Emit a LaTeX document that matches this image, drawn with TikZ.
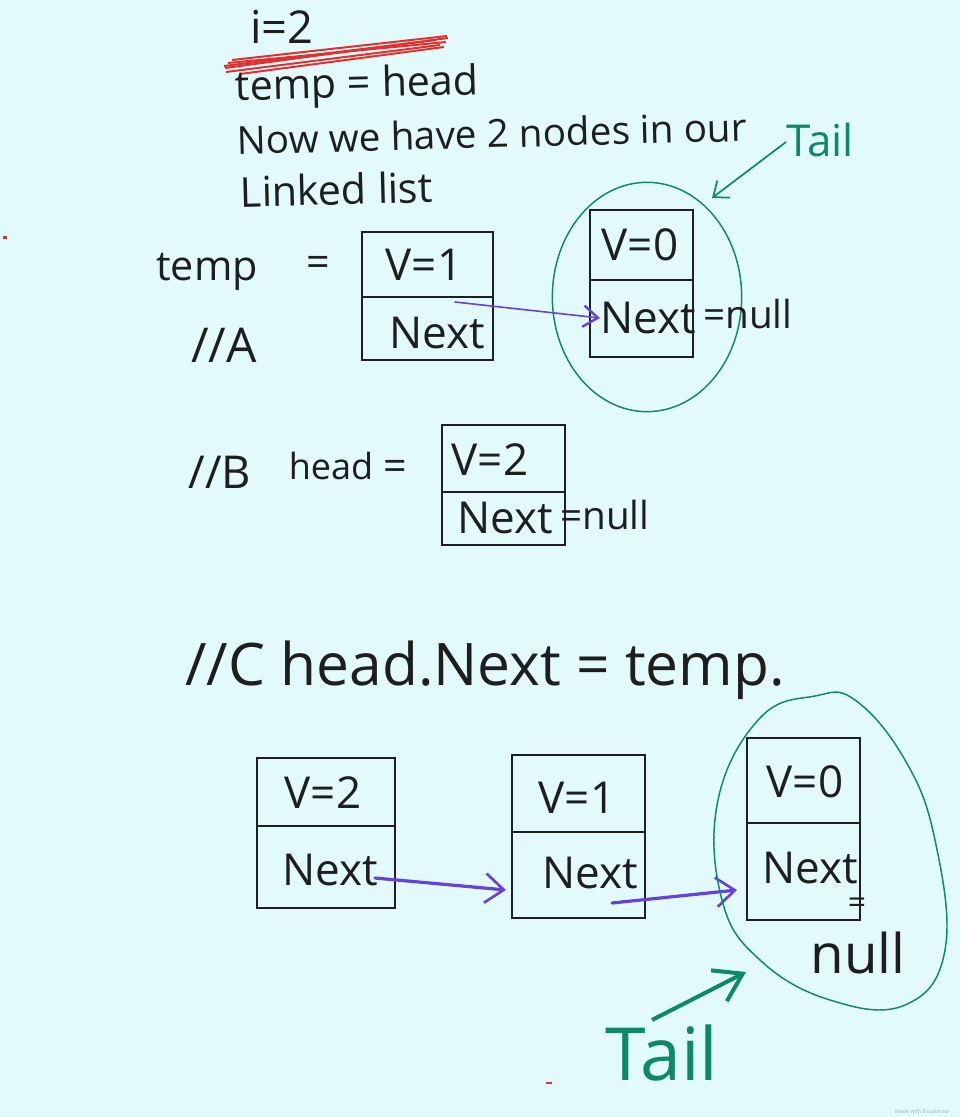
\documentclass[tikz,border=0pt]{standalone}
\usepackage{fontspec}
\setmainfont{Open Sans}
\usetikzlibrary{arrows.meta,fit,shapes.geometric}
\definecolor{bg}{HTML}{E3FAFC}
\definecolor{ink}{HTML}{1E1E1E}
\definecolor{tealgreen}{HTML}{0C8A66}
\definecolor{violetink}{HTML}{6741D9}
\definecolor{redink}{HTML}{E03131}
\definecolor{wmark}{HTML}{9FB6BA}
\begin{document}
\begin{tikzpicture}[x=0.75pt,y=-0.75pt,
  txt/.style={font=\fontsize{31}{36}\selectfont, text=ink, inner sep=0pt},
  cell/.style={font=\fontsize{33}{38}\selectfont, text=ink, inner sep=0pt},
  bigtxt/.style={font=\fontsize{44}{50}\selectfont, text=ink, inner sep=0pt},
  greentxt/.style={text=tealgreen, inner sep=0pt},
  listbox/.style={draw=ink, line width=1.4pt, inner sep=0pt},
  part/.style={draw=ink, line width=1.4pt},
  ptr/.style={draw=violetink, line width=2.4pt, line cap=round, -{Straight Barb[length=14pt,width=22pt,line width=2pt]}},
  thinptr/.style={draw=violetink, line width=1.2pt, line cap=round, -{Straight Barb[length=11pt,width=16pt,line width=1.8pt]}},
  tailarrow/.style={draw=tealgreen, line width=1.3pt, -{Straight Barb[length=10pt,width=16pt,line width=1.3pt]}},
  tailthick/.style={draw=tealgreen, line width=3pt, -{Straight Barb[length=20pt,width=26pt,line width=3pt]}},
  ring/.style={draw=tealgreen, line width=1.1pt},
  redline/.style={draw=redink, line width=1.5pt}
]
\fill[bg] (0,0) rectangle (960,1117);
\useasboundingbox (0,0) rectangle (960,1117);

% --- header
\node[txt, font=\fontsize{34}{40}\selectfont] (i2) at (282,27) {i=2};
\draw[redline] (225,68) -- (448,38);
\draw[redline] (228,63) -- (446,42);
\draw[redline] (226,72) -- (440,45);
\draw[redline] (232,60) -- (447,36);
\draw[redline] (240,74) -- (444,47);
\draw[redline] (224,66) -- (436,40);
\node[txt, anchor=west, rotate=1.5] (l1) at (235,90) {temp = head};
\node[txt, anchor=west, rotate=1.5, font=\fontsize{29}{34}\selectfont] (l2) at (237,140) {Now we have 2 nodes in our};
\node[txt, anchor=west, rotate=1.5] (l3) at (240,192) {Linked list};

% --- top tail
\node[greentxt, font=\fontsize{33}{38}\selectfont] (tail1) at (820,140) {Tail};
\node[ring, ellipse, minimum width=142pt, minimum height=172pt] (ring1) at (647,297) {};
\coordinate (tail1tip) at (712,198);
\draw[tailarrow] (786,142) -- (tail1tip);

% --- step A
\node[txt] (temp1) at (207,272) {temp};
\node[txt] (eq1) at (318,266) {=};
\node[txt, font=\fontsize{36}{40}\selectfont] (labA) at (224,345) {//A};
\node[listbox, fit={(362,232) (493,360)}] (b1) {};
\draw[part] (362,297) -- (493,297);
\node[cell] (b1v) at (424,265) {V=1};
\node[cell] (b1n) at (437,333) {Next};

\node[listbox, fit={(590,210) (693,357)}] (b2) {};
\draw[part] (590,280) -- (693,280);
\node[cell] (b2v) at (640,245) {V=0};
\node[cell] (b2n) at (648,318) {Next};
\node[txt, font=\fontsize{29}{34}\selectfont, anchor=west] (b2null) at (703,314) {=null};

\coordinate (p1) at (455,302);
\coordinate (q1) at (600,318);
\draw[thinptr] (p1) -- (q1);

% --- step B
\node[txt, font=\fontsize{34}{40}\selectfont] (labB) at (220,472) {//B};
\node[txt, font=\fontsize{27}{32}\selectfont] (head1) at (331,466) {head};
\node[txt] (eq2) at (395,470) {=};
\node[listbox, fit={(442,425) (565,545)}] (b3) {};
\draw[part] (442,492) -- (565,492);
\node[cell] (b3v) at (490,460) {V=2};
\node[cell] (b3n) at (505,518) {Next};
\node[txt, font=\fontsize{29}{34}\selectfont, anchor=west] (b3null) at (560,515) {=null};

% --- step C
\node[bigtxt, anchor=west] (labC) at (185,670) {//C head.Next = temp.};

\node[listbox, fit={(257,758) (395,908)}] (c1) {};
\draw[part] (257,826) -- (395,826);
\node[cell] (c1v) at (323,793) {V=2};
\node[cell] (c1n) at (330,870) {Next};

\node[listbox, fit={(512,755) (645,918)}] (c2) {};
\draw[part] (512,832) -- (645,832);
\node[cell] (c2v) at (577,798) {V=1};
\node[cell] (c2n) at (590,873) {Next};

\node[listbox, fit={(747,738) (860,920)}] (c3) {};
\draw[part] (747,823) -- (860,823);
\node[cell] (c3v) at (805,782) {V=0};
\node[cell] (c3n) at (810,868) {Next};
\node[txt, font=\fontsize{24}{28}\selectfont] (c3eq) at (857,906) {=};
\node[txt, font=\fontsize{41}{46}\selectfont] (c3null) at (858,953) {null};

\coordinate (p2) at (375,878);
\coordinate (q2) at (506,890);
\draw[ptr] (p2) -- (q2);
\coordinate (p3) at (612,903);
\coordinate (q3) at (737,890);
\draw[ptr] (p3) -- (q3);

\draw[ring] plot[smooth cycle, tension=0.7] coordinates {
  (855,700) (905,760) (935,840) (945,950) (905,1005) (830,1000)
  (760,960) (722,900) (718,800) (760,718) (815,696)};

\node[greentxt, font=\fontsize{55}{60}\selectfont] (tail2) at (662,1053) {Tail};
\coordinate (tail2tip) at (746,972);
\draw[tailthick] (652,1020) -- (tail2tip);

% --- stray marks and watermark
\fill[redink] (3,236) rectangle (7,239);
\fill[redink] (546,1082) rectangle (552,1084);
\node[text=wmark, font=\fontsize{4}{5}\selectfont, inner sep=0pt] (wm) at (922,1111) {Made with Excalidraw};
\end{tikzpicture}
\end{document}
